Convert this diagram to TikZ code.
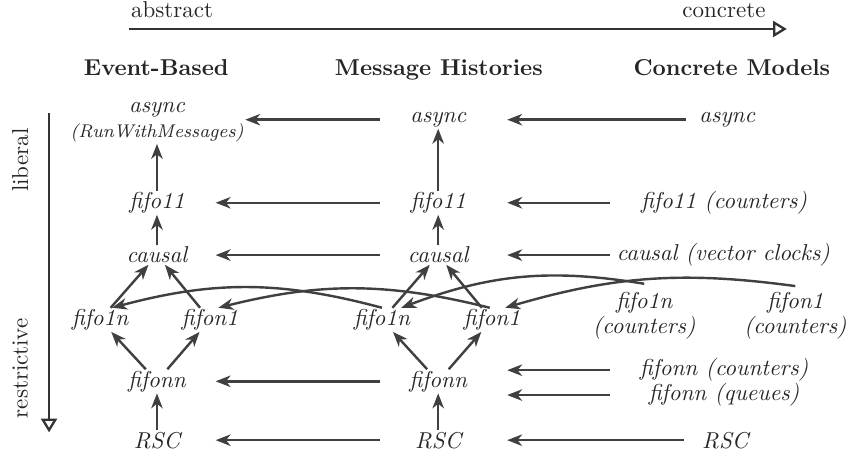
\documentclass[tikz,border=0pt]{standalone}
\usetikzlibrary{arrows.meta}

\begin{document}
\begin{tikzpicture}

\tikzset{model/.style = {font=\itshape, inner sep=0.5pt, text=black!85}}
\tikzset{col/.style = {model, minimum width=1.78cm}}
\tikzset{conc/.style = {model, minimum width=3.46cm}}
\tikzset{short/.style = {model, minimum width=1.26cm}}
\tikzset{refine/.style = {->, > = {Stealth[length=6.5pt,width=5pt,inset=2pt]}, draw=black!75, line width=1.05pt}}
\tikzset{axis/.style = {-{Triangle[open,length=6pt,width=7pt]}, draw=black!80, line width=1pt}}
\useasboundingbox (0,0) rectangle (12.966,-7.018);
%axes
\node[anchor=base, text=black!85] (abs) at (2.63,-0.26) {abstract};
\node[anchor=base, text=black!85] (con) at (11.07,-0.26) {concrete};
\coordinate (xfrom) at (1.97,-0.443);
\coordinate (xto) at (12.03,-0.443);
\draw[axis] (xfrom) -- (xto);
\node[rotate=90, text=black!85] (lib) at (0.31,-2.45) {liberal};
\node[rotate=90, text=black!85] (res) at (0.31,-5.63) {restrictive};
\coordinate (yfrom) at (0.75,-1.73);
\coordinate (yto) at (0.75,-6.61);
\draw[axis] (yfrom) -- (yto);
%headers
\node[anchor=base, font=\bfseries, text=black!85] (hEvent) at (2.39,-1.147) {Event-Based};
\node[anchor=base, font=\bfseries, text=black!85] (hHist) at (6.71,-1.147) {Message Histories};
\node[anchor=base, font=\bfseries, text=black!85] (hConc) at (11.19,-1.147) {Concrete Models};
%event-based
\node[model, align=center] (eAsync) at (2.40,-1.87) {async\\[-1pt]{\footnotesize (RunWithMessages)}};
\node[col] (eF11) at (2.40,-3.10) {fifo11};
\node[col] (eCausal) at (2.40,-3.90) {causal};
\node[model] (eF1n) at (1.53,-4.89) {fifo1n};
\node[model] (eFn1) at (3.21,-4.89) {fifon1};
\node[col] (eFnn) at (2.40,-5.83) {fifonn};
\node[col] (eRSC) at (2.40,-6.73) {RSC};
%message histories
\node[col] (mAsync) at (6.70,-1.83) {async};
\node[col] (mF11) at (6.70,-3.10) {fifo11};
\node[col] (mCausal) at (6.70,-3.90) {causal};
\node[model] (mF1n) at (5.84,-4.89) {fifo1n};
\node[model] (mFn1) at (7.52,-4.89) {fifon1};
\node[col] (mFnn) at (6.70,-5.83) {fifonn};
\node[col] (mRSC) at (6.70,-6.73) {RSC};
%concrete models
\node[short] (cAsync) at (11.12,-1.83) {async};
\node[conc] (cF11) at (11.07,-3.10) {fifo11 (counters)};
\node[conc] (cCausal) at (11.06,-3.90) {causal (vector clocks)};
\node[model, align=center] (cF1n) at (9.85,-4.83) {fifo1n\\[-1pt](counters)};
\node[model, align=center] (cFn1) at (12.16,-4.83) {fifon1\\[-1pt](counters)};
\node[conc] (cFnnC) at (11.07,-5.66) {fifonn (counters)};
\node[conc] (cFnnQ) at (11.07,-6.04) {fifonn (queues)};
\node[short] (cRSC) at (11.09,-6.73) {RSC};
%edges inside the columns
\draw[refine] (eF11) -- (eAsync);
\draw[refine] (eCausal) -- (eF11);
\draw[refine] (eF1n) -- (eCausal);
\draw[refine] (eFn1) -- (eCausal);
\draw[refine] (eFnn) -- (eF1n);
\draw[refine] (eFnn) -- (eFn1);
\draw[refine] (eRSC) -- (eFnn);
\draw[refine] (mF11) -- (mAsync);
\draw[refine] (mCausal) -- (mF11);
\draw[refine] (mF1n) -- (mCausal);
\draw[refine] (mFn1) -- (mCausal);
\draw[refine] (mFnn) -- (mF1n);
\draw[refine] (mFnn) -- (mFn1);
\draw[refine] (mRSC) -- (mFnn);
%edges between the columns
\draw[refine] (mAsync.west) -- (mAsync.west -| eAsync.east);
\draw[refine] (mF11.west) -- (eF11.east);
\draw[refine] (mCausal.west) -- (eCausal.east);
\draw[refine] (mFnn.west) -- (eFnn.east);
\draw[refine] (mRSC.west) -- (eRSC.east);
\draw[refine, shorten >=4.5pt] (cAsync.west) -- (mAsync.east);
\draw[refine, shorten >=4.5pt] (cF11.west) -- (mF11.east);
\draw[refine, shorten >=4.5pt] (cCausal.west) -- (mCausal.east);
\draw[refine, shorten >=4.5pt] (cFnnC.west) -- (cFnnC.west -| mFnn.east);
\draw[refine, shorten >=4.5pt] (cFnnQ.west) -- (cFnnQ.west -| mFnn.east);
\draw[refine, shorten >=4.5pt] (cRSC.west) -- (mRSC.east);
%curved edges
\draw[refine] (mF1n.north) to[bend right=15] (eF1n.45);
\draw[refine] (mFn1.100) to[bend right=14] (eFn1.55);
\draw[refine] ([yshift=3pt]cF1n.north) to[bend right=15] (mF1n.32);
\draw[refine] ([yshift=2pt]cFn1.north) to[bend right=12] (mFn1.42);

\end{tikzpicture}
\end{document}
